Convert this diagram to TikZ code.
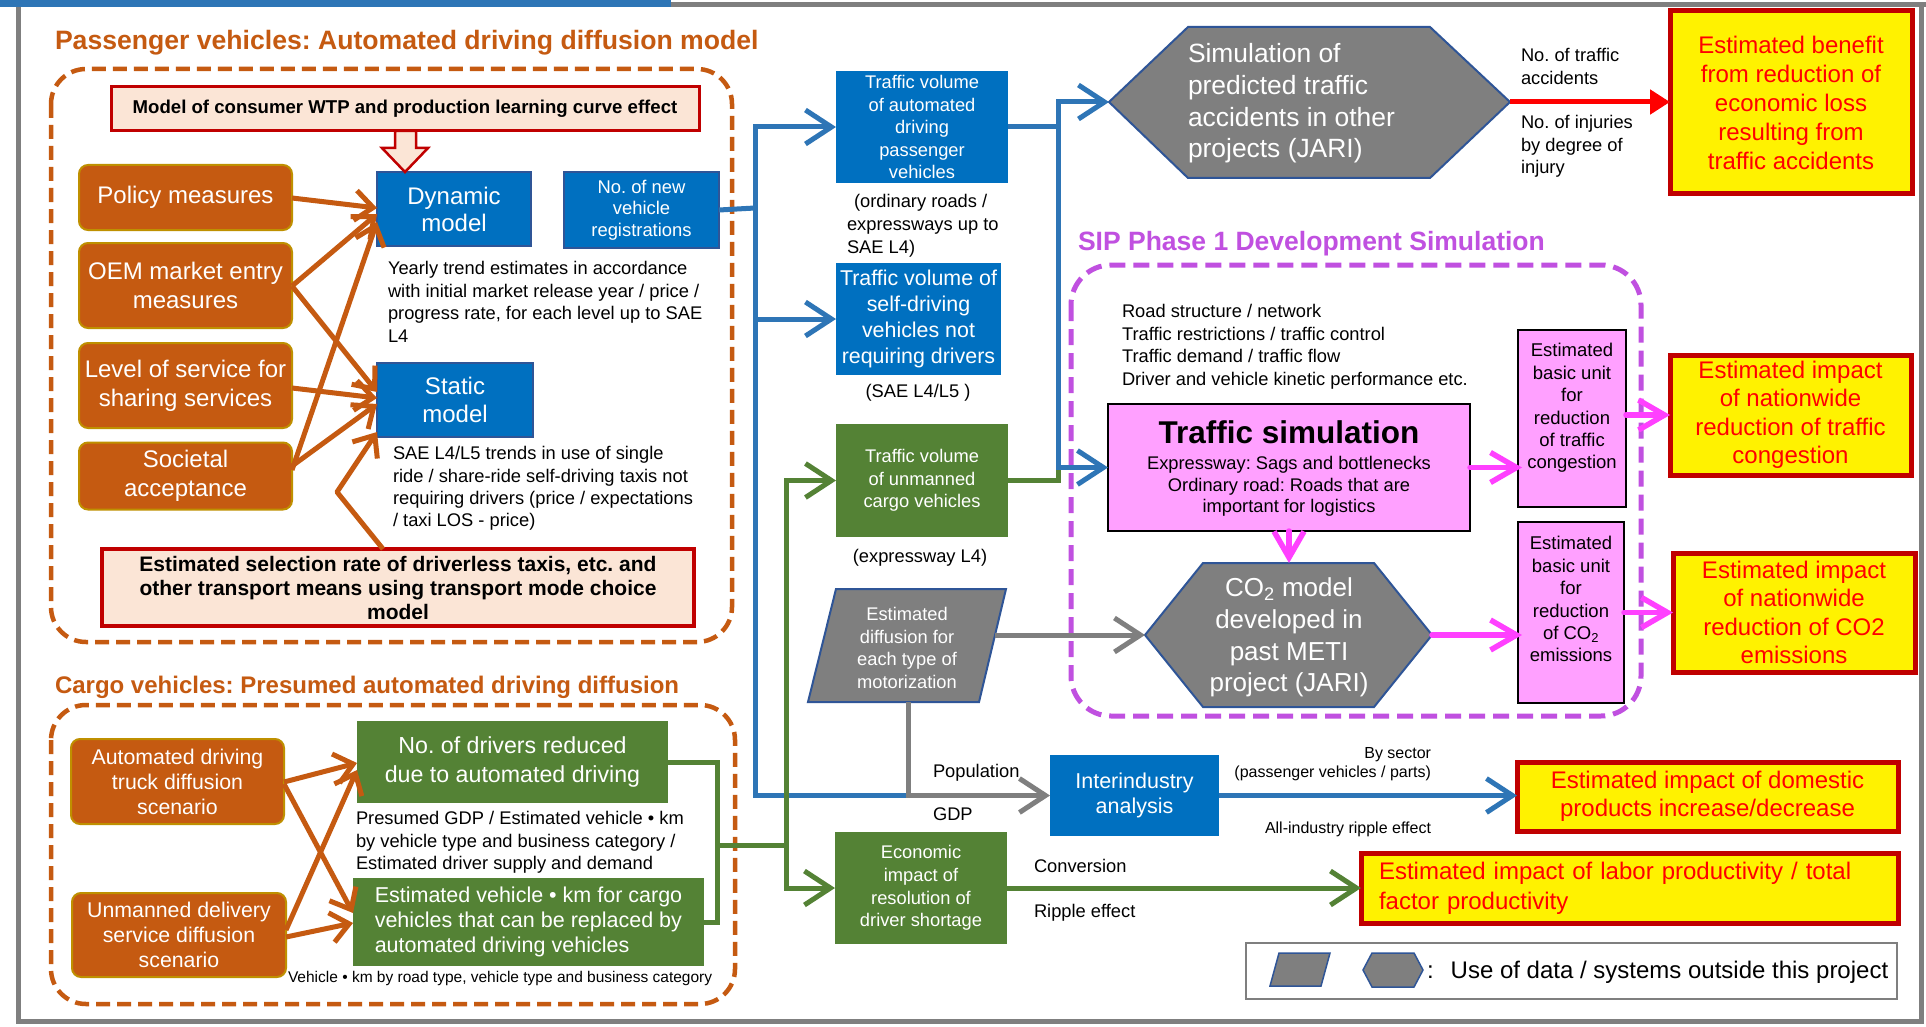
\documentclass[tikz,border=0pt]{standalone}
\usepackage{fontspec}
\setmainfont{Liberation Sans}
\usetikzlibrary{arrows.meta,calc}

\definecolor{orng}{HTML}{C55A11}
\definecolor{gold}{HTML}{BF9000}
\definecolor{bluebox}{HTML}{0070C0}
\definecolor{blueedge}{HTML}{2F5597}
\definecolor{blueline}{HTML}{2E75B6}
\definecolor{grn}{HTML}{548235}
\definecolor{gry}{HTML}{7F7F7F}
\definecolor{pinkfill}{HTML}{FFA0FF}
\definecolor{mag}{HTML}{FF40FF}
\definecolor{darkred}{HTML}{C00000}
\definecolor{peach}{HTML}{FBE5D6}
\definecolor{purp}{HTML}{C050E0}
\newcommand\fs[2]{\fontsize{#1}{#2}\selectfont}

\tikzset{
  sz/.style 2 args={minimum width=#1pt, minimum height=#2pt},
  obox/.style={fill=orng, draw=gold, line width=2pt, rounded corners=9pt, text=white, align=center, font=\fs{24}{29}},
  bbox/.style={fill=bluebox, draw=blueedge, line width=1.5pt, text=white, align=center},
  gbox/.style={fill=grn, text=white, align=center},
  ybox/.style={fill=yellow, draw=darkred, line width=5pt, text=red, align=center, font=\fs{24}{29}},
  rbox/.style={fill=peach, draw=darkred, line width=4pt, align=center},
  pkbox/.style={fill=pinkfill, draw=black, line width=2pt},
  note/.style={align=left, font=\fs{18.3}{22.5}},
  small/.style={font=\fs{16}{19}},
  grptitle/.style={font=\fs{26.6}{32}\bfseries},
  oar/.style={draw=orng, line width=5pt, line join=round, -{Straight Barb[length=18pt,width=30pt]}},
  bl/.style={draw=blueline, line width=5pt},
  blar/.style={bl, -{Straight Barb[length=26pt,width=34pt]}},
  gl/.style={draw=grn, line width=5pt},
  glar/.style={gl, -{Straight Barb[length=26pt,width=34pt]}},
  gyar/.style={draw=gry, line width=5pt, -{Straight Barb[length=26pt,width=34pt]}},
  pkar/.style={draw=mag, line width=5.5pt, line cap=round, -{Straight Barb[length=26pt,width=30pt]}},
}

\begin{document}
\frenchspacing
\begin{tikzpicture}[x=1pt, y=-1pt, every node/.style={inner sep=0pt, outer sep=0pt}]
\path[use as bounding box] (0,0) rectangle (1926,1027);
\fill[white] (0,0) rectangle (1926,1027);

% page frame
\fill[gry] (671,2) rectangle (1926,7);
\fill[blueline] (0,0) rectangle (671,7);
\draw[gry, line width=5pt] (18.5,7) -- (18.5,1021.5) -- (1921.5,1021.5) -- (1921.5,4.5);

% ---------------- passenger vehicles group ----------------
\node[grptitle, text=orng, anchor=base west] (t1) at (55,50) {Passenger vehicles: Automated driving diffusion model};
\draw[orng, line width=4.5pt, dash pattern=on 14pt off 7pt, rounded corners=35pt] (51,69) rectangle (732,642);

\node[rbox, line width=3pt, sz={588}{44}, font=\fs{18.6}{22}\bfseries] (wtp) at (405,109) {Model of consumer WTP and production learning curve effect};

\node[obox, sz={213}{65}] (policy) at (185.5,197.5) {Policy measures};
\node[obox, sz={213}{85}] (oem) at (185.5,285.5) {OEM market entry\\measures};
\node[obox, sz={213}{85}] (lev) at (185.5,385.5) {Level of service for\\sharing services};
\node[obox, sz={213}{67}] (soc) at (185.5,476) {Societal\\acceptance};

\node[bbox, sz={154}{74}, font=\fs{24}{27}] (dyn) at (454,209) {Dynamic\\model};
\node[bbox, sz={155}{76}, font=\fs{18.4}{21.7}] (nonew) at (641.5,210) {No. of new\\vehicle\\registrations};
\node[bbox, sz={156}{74}, font=\fs{24}{28}] (stat) at (455,400) {Static\\model};

% block arrow from the WTP model into the dynamic model
\filldraw[fill=peach, draw=darkred, line width=2.5pt, line join=miter]
  ($(wtp.south)+(-10,0)$) -- ($(wtp.south)+(11,0)$) -- ($(wtp.south)+(11,17)$) -- ($(wtp.south)+(23,17)$)
  -- (wtp.south |- dyn.north) -- ($(wtp.south)+(-23,17)$) -- ($(wtp.south)+(-10,17)$) -- cycle;

\node[note, anchor=north west] (dyntxt) at (388,261.5) {Yearly trend estimates in accordance\\with initial market release year / price /\\progress rate, for each level up to SAE\\L4};
\node[note, anchor=north west, font=\fs{18.3}{22.3}] (stattxt) at (393,446.5) {SAE L4/L5 trends in use of single\\ride / share-ride self-driving taxis not\\requiring drivers (price / expectations\\/ taxi LOS - price)};

\node[rbox, sz={592}{77}, font=\fs{21}{24}\bfseries] (sel) at (398,587.5) {Estimated selection rate of driverless taxis, etc. and\\other transport means using transport mode choice\\model};

\draw[oar] (policy.east |- 0,198) -- (dyn.west |- 0,208);
\draw[oar] (oem.east |- 0,286) -- (dyn.west |- 0,214);
\draw[oar] (soc.east |- 0,470) -- (dyn.west |- 0,222);
\draw[oar] (oem.east |- 0,286) -- (stat.west |- 0,392);
\draw[oar] (lev.east |- 0,388) -- (stat.west |- 0,398);
\draw[oar] (soc.east |- 0,466) -- (stat.west |- 0,404);
\draw[oar] (sel.north -| 383,0) -- (337,492) -- (stat.west |- 0,432);

% ---------------- cargo vehicles group ----------------
\node[grptitle, font=\fs{24}{29}\bfseries, text=orng, anchor=base west] (t2) at (55,693) {Cargo vehicles: Presumed automated driving diffusion};
\draw[orng, line width=4.5pt, dash pattern=on 14pt off 7pt, rounded corners=35pt] (51,705) rectangle (735,1004);

\node[obox, sz={213}{85}, font=\fs{21.3}{25}] (truck) at (177.5,781.5) {Automated driving\\truck diffusion\\scenario};
\node[obox, sz={214}{84}, font=\fs{21.3}{25}] (unm) at (179,935) {Unmanned delivery\\service diffusion\\scenario};
\node[gbox, sz={311}{82}, font=\fs{23.2}{29}] (drv) at (512.5,762) {No. of drivers reduced\\due to automated driving};
\node[note, anchor=north west] (cargotxt) at (356,811.5) {Presumed GDP / Estimated vehicle • km\\by vehicle type and business category /\\Estimated driver supply and demand};
\node[gbox, sz={351}{88}, font=\fs{21.5}{25}, align=left] (evk) at (528.5,922) {Estimated vehicle • km for cargo\\vehicles that can be replaced by\\automated driving vehicles};
\node[anchor=base west, font=\fs{15.5}{18}] (vkm) at (288,982) {Vehicle • km by road type, vehicle type and business category};

\draw[oar] (truck.east |- 0,782) -- (drv.west |- 0,763);
\draw[oar] (truck.east |- 0,784) -- (evk.west |- 0,913);
\draw[oar] (unm.east |- 0,930) -- (drv.west |- 0,770);
\draw[oar] (unm.east |- 0,937) -- (evk.west |- 0,923);

% ---------------- middle column ----------------
\node[bbox, draw=none, sz={172}{112}, font=\fs{18.3}{22.5}] (tv1) at (922,127) {Traffic volume\\of automated\\driving\\passenger\\vehicles};
\node[note, anchor=north west, font=\fs{18.3}{23}] (cap1) at (847,194.5) {\hspace{7pt}(ordinary roads /\\expressways up to\\SAE L4)};
\node[bbox, draw=none, sz={165}{112}, font=\fs{21.4}{25.7}] (tv2) at (918.5,319) {Traffic volume of\\self-driving\\vehicles not\\requiring drivers};
\node[anchor=base, font=\fs{18.3}{22}] (cap2) at (918,397) {(SAE L4/L5 )};
\node[gbox, sz={172}{113}, font=\fs{18.3}{22.5}] (tv3) at (922,480.5) {Traffic volume\\of unmanned\\cargo vehicles};
\node[anchor=base, font=\fs{18.3}{22}] (cap3) at (920,562) {(expressway L4)};

\filldraw[fill=gry, draw=blueedge, line width=2pt] (836,589) -- (1006,589) -- (979,702) -- (808,702) -- cycle;
\node[text=white, align=center, font=\fs{18.3}{22.5}] (para) at (907,648) {Estimated\\diffusion for\\each type of\\motorization};
\coordinate (paraR) at (995,635);
\coordinate (paraB) at (908,702);

\node[gbox, sz={172}{112}, font=\fs{18.3}{22.7}] (econ) at (921,888) {Economic\\impact of\\resolution of\\driver shortage};
\node[bbox, draw=none, sz={169}{81}, font=\fs{21.5}{25}] (inter) at (1134.5,795.5) {Interindustry\\analysis};

% blue bus from new vehicle registrations
\coordinate (bj) at (755,208);
\draw[bl] (nonew.east) -- (bj);
\draw[blar] (bj) |- (tv1.west);
\draw[blar] (bj) |- (tv2.west);
\draw[bl] (bj) |- (paraB |- inter.west);

% green bus from cargo models
\coordinate (cj) at (717,845);
\coordinate (gj) at (786,845);
\draw[gl] (drv.east) -| (cj) |- (evk.east);
\draw[gl] (cj) -- (gj);
\draw[glar] (gj) |- (tv3.west);
\draw[glar] (gj) |- (econ.west);

% gray flow from the diffusion data
\draw[gyar] (paraB) |- (inter.west);

\node[anchor=base west, font=\fs{18.3}{22}] (pop) at (933,777) {Population};
\node[anchor=base west, font=\fs{18.3}{22}] (gdp) at (933,820) {GDP};

% ---------------- upper right ----------------
\filldraw[fill=gry, draw=blueedge, line width=2pt] (1109,102) -- (1188,27) -- (1430,27) -- (1510,102) -- (1430,178) -- (1188,178) -- cycle;
\coordinate (hex1L) at (1109,102);
\coordinate (hex1R) at (1510,102);
\node[text=white, align=left, anchor=north west, font=\fs{26.4}{31.7}] (hex1) at (1188,43.7) {Simulation of\\predicted traffic\\accidents in other\\projects (JARI)};

\coordinate (bj2) at (1058,127);
\draw[gl] (tv3.east) -| (1058,470);
\draw[bl] (tv1.east) -- (bj2);
\draw[blar] (bj2) |- (hex1L);

\node[ybox, sz={242}{183}] (benefit) at (1791,102.5) {Estimated benefit\\from reduction of\\economic loss\\resulting from\\traffic accidents};
\draw[draw=red, line width=5pt, -{Triangle[length=20pt,width=24pt]}] (hex1R) -- (benefit.west |- hex1R);
\node[note, anchor=north west, font=\fs{18.3}{23}] (acc) at (1521,48.7) {No. of traffic\\accidents};
\node[note, anchor=north west] (inj) at (1521,115.5) {No. of injuries\\by degree of\\injury};

% ---------------- SIP phase 1 group ----------------
\node[font=\fs{26.5}{32}\bfseries, text=purp, anchor=base west] (t3) at (1078,250) {SIP Phase 1 Development Simulation};
\draw[purp, line width=5pt, dash pattern=on 16pt off 8pt, rounded corners=40pt] (1071,265) rectangle (1641,716);

\node[note, anchor=north west] (roadtxt) at (1122,304.5) {Road structure / network\\Traffic restrictions / traffic control\\Traffic demand / traffic flow\\Driver and vehicle kinetic performance etc.};

\node[pkbox, sz={362}{127}] (tsim) at (1289,467.5) {};
\node[anchor=base, font=\fs{31.5}{36}\bfseries] (tsimt) at (1289,443) {Traffic simulation};
\node[anchor=north, align=center, font=\fs{18.3}{21.5}] (tsimb) at (1289,456.5) {Expressway: Sags and bottlenecks\\Ordinary road: Roads that are\\important for logistics};
\draw[blar] (bj2) |- (tsim.west);

\filldraw[fill=gry, draw=blueedge, line width=2pt] (1145,635) -- (1203,563) -- (1374,563) -- (1432,635) -- (1374,707) -- (1203,707) -- cycle;
\coordinate (hex2L) at (1145,635);
\coordinate (hex2R) at (1432,635);
\coordinate (hex2T) at (1289,563);
\node[text=white, align=center, font=\fs{26}{31.7}] (hex2) at (1289,637.5) {CO\textsubscript{2} model\\developed in\\past METI\\project (JARI)};

\draw[gyar] (paraR) -- (hex2L);
\draw[pkar] (tsim.south) -- (hex2T);

\node[pkbox, sz={108}{177}] (bu1) at (1572,418.5) {};
\node[anchor=north, align=center, font=\fs{18.5}{22.4}] (bu1t) at (1572,343.5) {Estimated\\basic unit\\for\\reduction\\of traffic\\congestion};
\node[pkbox, sz={106}{181}] (bu2) at (1571,612.5) {};
\node[anchor=north, align=center, font=\fs{18.5}{22.4}] (bu2t) at (1571,536.5) {Estimated\\basic unit\\for\\reduction\\of CO\textsubscript{2}\\emissions};

\draw[pkar] (tsim.east) -- ($(bu1.west |- tsim.east)+(4,0)$);
\draw[pkar] (hex2R) -- ($(bu2.west |- hex2R)+(4,0)$);

\node[ybox, sz={241}{120}, font=\fs{24}{28.5}] (y1) at (1790.5,415) {Estimated impact\\of nationwide\\reduction of traffic\\congestion};
\node[ybox, sz={242}{119}, font=\fs{24}{28.5}] (y2) at (1794,612.5) {Estimated impact\\of nationwide\\reduction of CO2\\emissions};
\draw[pkar] (bu1.east |- y1.west) -- (y1.west);
\draw[pkar] (bu2.east |- y2.west) -- (y2.west);

% ---------------- lower right ----------------
\node[ybox, sz={381}{69}, font=\fs{24}{27.5}] (dom) at (1707.5,796.5) {Estimated impact of domestic\\products increase/decrease};
\draw[blar] (inter.east) -- (inter.east -| dom.west);
\node[anchor=base east, small] (bysec) at (1431,758) {By sector};
\node[anchor=base east, small] (pvp) at (1431,777) {(passenger vehicles / parts)};
\node[anchor=base east, small] (allind) at (1431,833) {All-industry ripple effect};

\node[ybox, sz={537}{70}, font=\fs{24}{30}, align=left, text width=501pt] (labor) at (1629.5,888) {Estimated impact of labor productivity / total\\factor productivity};
\draw[glar] (econ.east) -- (econ.east -| labor.west);
\node[anchor=base west, font=\fs{18.3}{22}] (conv) at (1034,872) {Conversion};
\node[anchor=base west, font=\fs{18.3}{22}] (ripple) at (1034,917) {Ripple effect};

% legend
\node[draw=gry, line width=2pt, fill=white, sz={651}{56}] (legend) at (1571.5,971) {};
\filldraw[fill=gry, draw=blueedge, line width=1.5pt] (1279,953) -- (1330,953) -- (1321,986) -- (1270,986) -- cycle;
\filldraw[fill=gry, draw=blueedge, line width=1.5pt] (1363,970) -- (1372,953) -- (1414,953) -- (1423,970) -- (1414,987) -- (1372,987) -- cycle;
\node[anchor=base west, font=\fs{24}{28}] (legtxt) at (1427,978) {:\hspace{17pt}Use of data / systems outside this project};
\end{tikzpicture}
\end{document}
